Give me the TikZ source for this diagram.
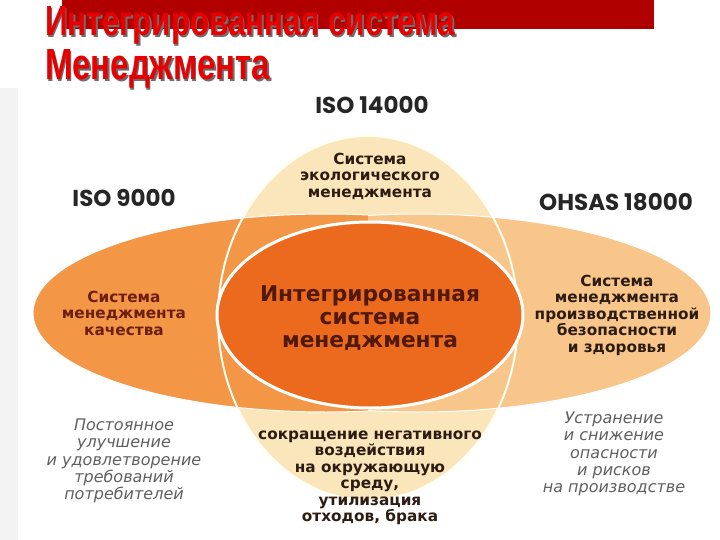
\documentclass[tikz,border=0pt]{standalone}
\usepackage{fontspec}
\setmainfont{DejaVu Sans}
\newfontfamily\isofont{Poppins}
\newfontfamily\titlefont{Liberation Sans}
\definecolor{bgstrip}{RGB}{243,243,243}
\definecolor{leftor}{RGB}{243,150,70}
\definecolor{rightor}{RGB}{248,198,138}
\definecolor{topbeige}{RGB}{250,230,186}
\definecolor{centor}{RGB}{236,106,30}
\definecolor{centtxt}{RGB}{80,25,10}
\definecolor{lefttxt}{RGB}{110,30,15}
\definecolor{darktxt}{RGB}{45,28,18}
\definecolor{graytxt}{RGB}{95,95,95}
\definecolor{titlered}{RGB}{232,0,0}
\definecolor{barred}{RGB}{176,0,0}
\definecolor{shadowgray}{RGB}{110,110,110}
\tikzset{
  isolabel/.style={font=\isofont\bfseries\fontsize{23}{27}\selectfont, text=black!85, inner sep=0pt},
  bodytxt/.style={font=\bfseries\fontsize{15.3}{16.5}\selectfont, align=center, inner sep=0pt},
  centretxt/.style={font=\bfseries\fontsize{21.7}{23}\selectfont, align=center, inner sep=0pt, text=centtxt},
  notetxt/.style={font=\itshape\fontsize{16}{17.2}\selectfont, align=center, inner sep=0pt, text=graytxt},
  titletxt/.style={font=\titlefont\bfseries\fontsize{36}{40}\selectfont, inner sep=0pt, anchor=base west},
}
\begin{document}
\begin{tikzpicture}[x=1pt,y=-1pt]
\useasboundingbox (0,0) rectangle (720,540);
\fill[white] (0,0) rectangle (720,540);
\fill[bgstrip] (0,88) rectangle (18,540);
% title bar
\fill[barred] (62,0) rectangle (654,29);
% ellipses
\fill[topbeige] (368,318) ellipse [x radius=150pt, y radius=182pt];
\begin{scope}
  \clip (0,0) rectangle (368,540);
  \fill[leftor] (326,313) ellipse [x radius=293pt, y radius=99pt];
  \draw[white, line width=1pt] (326,313) ellipse [x radius=293pt, y radius=99pt];
\end{scope}
\begin{scope}
  \clip (368,0) rectangle (720,540);
  \fill[rightor] (418,313) ellipse [x radius=293pt, y radius=99pt];
  \draw[white, line width=1pt] (418,313) ellipse [x radius=293pt, y radius=99pt];
\end{scope}
\draw[white!95!yellow, line width=2pt] (368,318) ellipse [x radius=150pt, y radius=182pt];
\fill[centor] (370,315) ellipse [x radius=153pt, y radius=93pt];
\draw[white, line width=3pt] (370,315) ellipse [x radius=153pt, y radius=93pt];
% title
\node[titletxt, text=shadowgray] (t1s) at (46.5,37.5) {\resizebox{410pt}{29pt}{Интегрированная система}};
\node[titletxt, text=titlered] (t1) at (45,36) {\resizebox{410pt}{29pt}{Интегрированная система}};
\node[titletxt, text=shadowgray] (t2s) at (46.5,81.5) {\resizebox{225pt}{30pt}{Менеджмента}};
\node[titletxt, text=titlered] (t2) at (45,80) {\resizebox{225pt}{30pt}{Менеджмента}};
% standard labels
\node[isolabel] (iso14) at (372,105) {ISO 14000};
\node[isolabel] (iso9) at (124,198) {ISO 9000};
\node[isolabel] (ohsas) at (616,202) {OHSAS 18000};
% ellipse texts
\node[centretxt] (ims) at (370,318) {Интегрированная\\система\\менеджмента};
\node[bodytxt, text=lefttxt] (qms) at (124,313) {Система\\менеджмента\\качества};
\node[bodytxt, text=darktxt] (ems) at (370,176) {Система\\экологического\\менеджмента};
\node[bodytxt, text=darktxt] (ohs) at (617,315) {Система\\менеджмента\\производственной\\безопасности\\и здоровья};
\node[bodytxt, text=darktxt] (env) at (370,478) {сокращение негативного\\воздействия\\на окружающую\\среду,\\утилизация\\отходов, брака};
% notes
\node[notetxt] (n1) at (124,461) {Постоянное\\улучшение\\и удовлетворение\\требований\\потребителей};
\node[notetxt] (n2) at (614,454) {Устранение\\и снижение\\опасности\\и рисков\\на производстве};
\end{tikzpicture}
\end{document}
